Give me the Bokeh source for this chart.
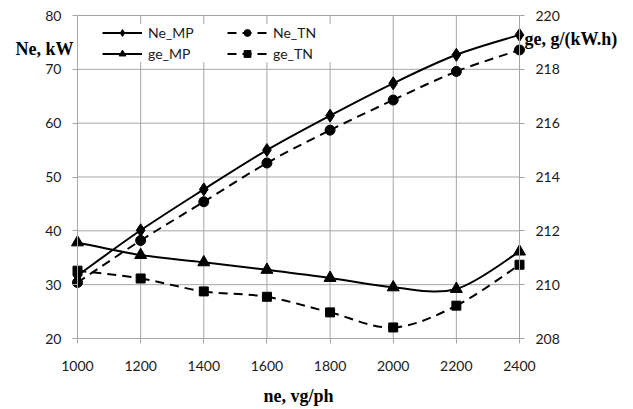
import numpy as np
from bokeh.plotting import figure
from bokeh.models import (Range1d, LinearAxis, FixedTicker, Legend, LegendItem,
                          Label, ColumnDataSource)
from bokeh.embed import file_html
from bokeh.resources import INLINE

# ---- data ----
rpm = [1000, 1200, 1400, 1600, 1800, 2000, 2200, 2400]
ne_mp = [31.7, 40.1, 47.7, 55.0, 61.4, 67.4, 72.7, 76.4]
ne_tn = [30.4, 38.2, 45.4, 52.6, 58.7, 64.3, 69.6, 73.6]
ge_mp = [211.57, 211.1, 210.83, 210.55, 210.25, 209.9, 209.84, 211.23]
ge_tn = [210.52, 210.23, 209.75, 209.55, 208.97, 208.41, 209.22, 210.74]

x_ticks = [1000, 1200, 1400, 1600, 1800, 2000, 2200, 2400]
left_ticks = [20, 30, 40, 50, 60, 70, 80]
right_ticks = [208, 210, 212, 214, 216, 218, 220]

X_LIM = (1000, 2400)
NE_LIM = (20, 80)
GE_LIM = (208, 220)

# ---- layout (pixels) ----
W, H = 630, 409
PL, PR, PT, PB = 77, 519, 15, 338   # plot-area edges inside the canvas

GRID = "#a6a6a6"
TICKFONT = "Lato"
TXT = "#1a1a1a"


def padded(lim, lo_px, hi_px, span_px):
    """Range that puts lim at the given pixel insets of the canvas."""
    k = (lim[1] - lim[0]) / span_px
    return Range1d(lim[0] - lo_px * k, lim[1] + hi_px * k)


def smooth_segments(xs, ys):
    """Bezier control points (Excel-like smoothing) for a series."""
    xs = np.asarray(xs, float)
    ys = np.asarray(ys, float)
    n = len(xs)
    d = dict(x0=[], y0=[], x1=[], y1=[], cx0=[], cy0=[], cx1=[], cy1=[])
    for i in range(n - 1):
        p0 = i - 1 if i > 0 else i
        p3 = i + 2 if i + 2 < n else i + 1
        d["x0"].append(xs[i]); d["y0"].append(ys[i])
        d["x1"].append(xs[i + 1]); d["y1"].append(ys[i + 1])
        d["cx0"].append(xs[i] + (xs[i + 1] - xs[p0]) / 6)
        d["cy0"].append(ys[i] + (ys[i + 1] - ys[p0]) / 6)
        d["cx1"].append(xs[i + 1] - (xs[p3] - xs[i]) / 6)
        d["cy1"].append(ys[i + 1] - (ys[p3] - ys[i]) / 6)
    return ColumnDataSource(d)


p = figure(width=W, height=H, output_backend="svg", toolbar_location=None,
           x_axis_type=None, y_axis_type=None,
           x_range=padded(X_LIM, PL, W - PR, PR - PL),
           y_range=padded(NE_LIM, H - PB, PT, PB - PT),
           min_border_left=0, min_border_right=0, min_border_top=0,
           min_border_bottom=0)
p.extra_y_ranges = {"ge": padded(GE_LIM, H - PB, PT, PB - PT)}
p.outline_line_color = None
p.background_fill_color = "white"
p.border_fill_color = "white"
p.xgrid.visible = False
p.ygrid.visible = False

# grid lines bounded to the plot area
p.segment(x0=x_ticks, y0=[NE_LIM[0]] * len(x_ticks), x1=x_ticks,
          y1=[NE_LIM[1]] * len(x_ticks), line_color=GRID, line_width=1)
p.segment(x0=[X_LIM[0]] * len(left_ticks), y0=left_ticks,
          x1=[X_LIM[1]] * len(left_ticks), y1=left_ticks,
          line_color=GRID, line_width=1)


def style(ax, standoff):
    ax.axis_line_color = GRID
    ax.major_tick_line_color = GRID
    ax.minor_tick_line_color = None
    ax.major_tick_in = 0
    ax.major_tick_out = 5
    ax.major_label_standoff = standoff
    ax.major_label_text_font = TICKFONT
    ax.major_label_text_font_size = "14px"
    ax.major_label_text_color = TXT


xa = LinearAxis(fixed_location=NE_LIM[0], bounds=X_LIM,
                ticker=FixedTicker(ticks=x_ticks))
style(xa, 17)
p.add_layout(xa, "below")

la = LinearAxis(fixed_location=X_LIM[0], bounds=NE_LIM,
                ticker=FixedTicker(ticks=left_ticks))
style(la, 11)
p.add_layout(la, "left")

ra = LinearAxis(fixed_location=X_LIM[1], bounds=GE_LIM, y_range_name="ge",
                ticker=FixedTicker(ticks=right_ticks))
style(ra, 11)
p.add_layout(ra, "right")

# ---- series ----
specs = [
    ("Ne_MP", ne_mp, "default", "solid", "diamond", 13),
    ("Ne_TN", ne_tn, "default", "9 6", "circle", 10),
    ("ge_MP", ge_mp, "ge", "solid", "triangle", 12),
    ("ge_TN", ge_tn, "ge", "9 6", "square", 9),
]
rend = {}
for name, ys, rng, dash, marker, size in specs:
    src = smooth_segments(rpm, ys)
    b = p.bezier(x0="x0", y0="y0", x1="x1", y1="y1", cx0="cx0", cy0="cy0",
                 cx1="cx1", cy1="cy1", source=src, line_color="black",
                 line_width=2, line_dash=dash, y_range_name=rng)
    s = p.scatter(rpm, ys, marker=marker, size=size,
                  fill_color="black", line_color="black", y_range_name=rng)
    rend[name] = [b, s]

legend = Legend(items=[LegendItem(label=n, renderers=rend[n])
                       for n in ["Ne_MP", "ge_MP", "Ne_TN", "ge_TN"]],
                location=(102, H - 62), orientation="vertical", nrows=2,
                glyph_width=40, glyph_height=17, label_height=17,
                label_width=75, label_standoff=6, spacing=4, padding=4,
                margin=0, border_line_color=None,
                background_fill_color="white", background_fill_alpha=1.0,
                label_text_font=TICKFONT, label_text_font_size="14px",
                label_text_color=TXT)
p.add_layout(legend, "center")

title_style = dict(x_units="screen", y_units="screen", text_baseline="alphabetic",
                   text_font="Liberation Serif", text_font_style="bold",
                   text_font_size="18px", text_color="black")
p.add_layout(Label(x=PL - 4, y=H - 48, text="Ne, kW", text_align="right",
                   **title_style))
p.add_layout(Label(x=PR + 5, y=H - 38, text="ge, g/(kW.h)", text_align="left",
                   **title_style))
p.add_layout(Label(x=(PL + PR) / 2, y=H - 395, text="ne, vg/ph",
                   text_align="center", **title_style))

open("out.html", "w").write(file_html(p, INLINE))
